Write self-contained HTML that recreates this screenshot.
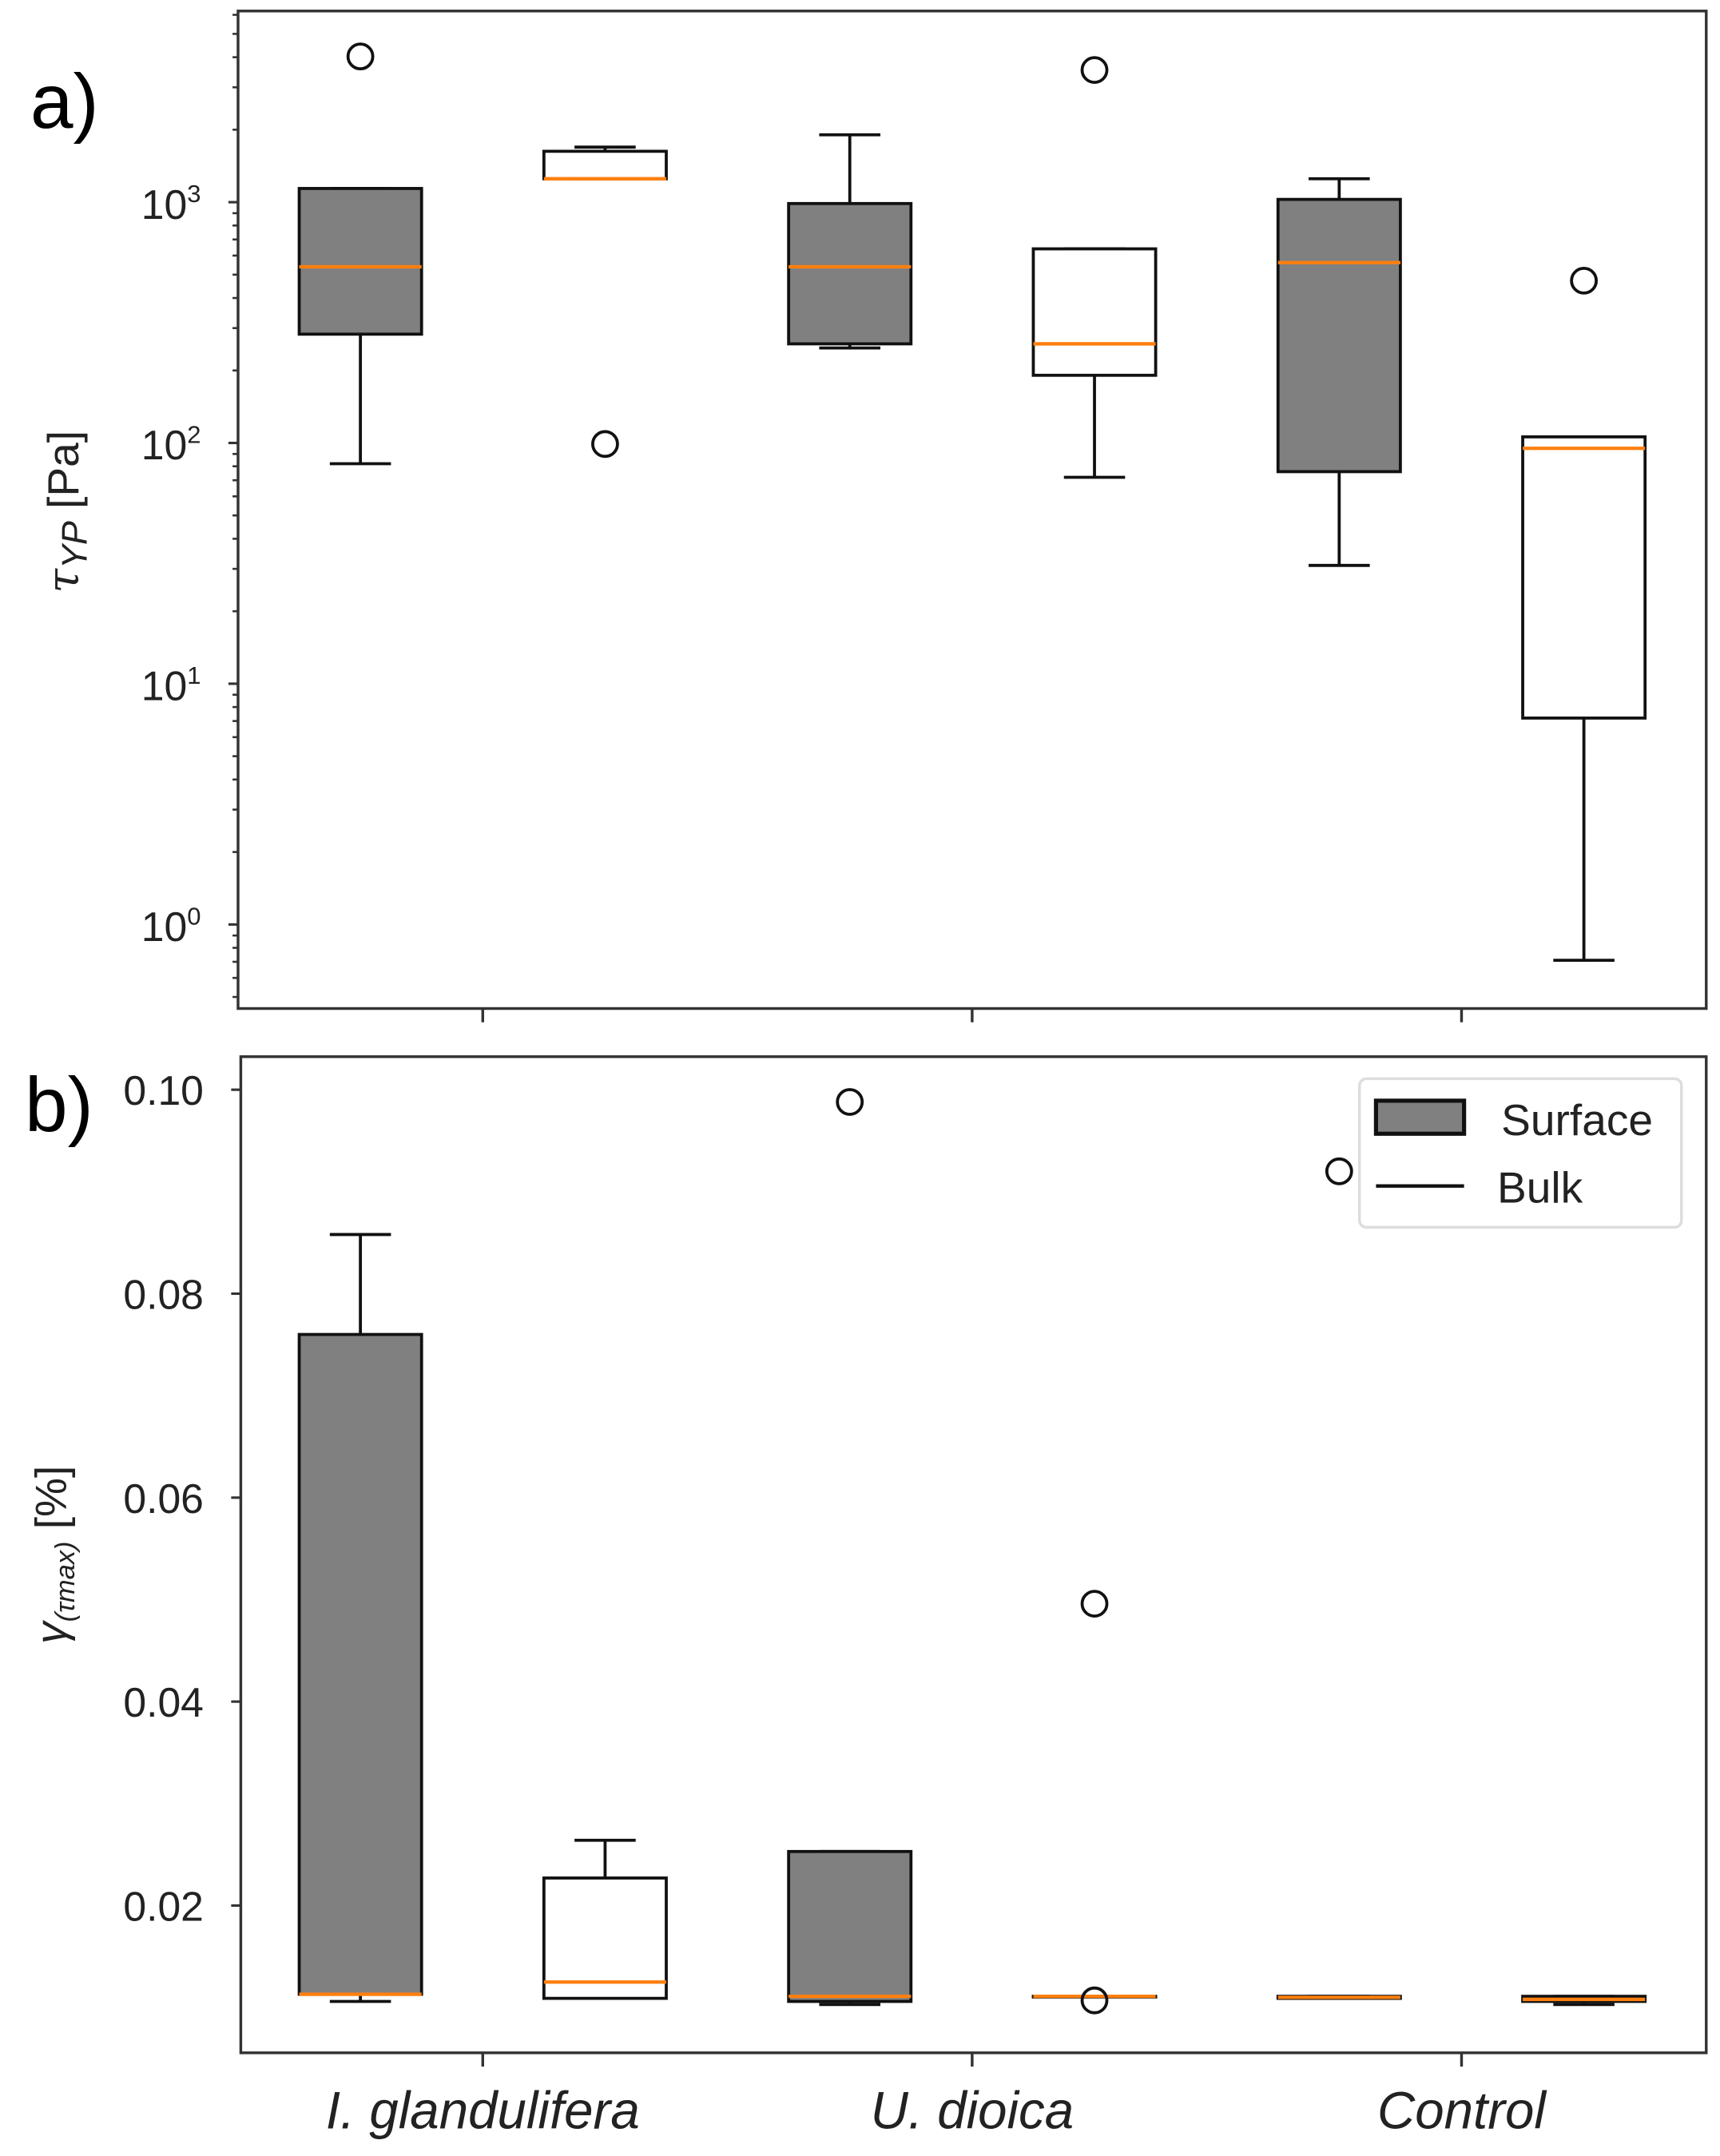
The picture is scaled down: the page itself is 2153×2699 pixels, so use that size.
<!DOCTYPE html>
<html><head><meta charset="utf-8"><style>html,body{margin:0;padding:0;background:#fff}svg{display:block}</style></head>
<body>
<svg id="fig" width="2153" height="2699" viewBox="0 0 1250 1567" preserveAspectRatio="none" xmlns="http://www.w3.org/2000/svg" font-family="'Liberation Sans', 'DejaVu Sans', sans-serif">
</svg>
<script>
// Panel a data: [low whisker, q1, median, q3, high whisker]
const categories = ["I. glandulifera", "U. dioica", "Control"];
const seriesNames = ["Surface", "Bulk"];
const aLow  = [82, 1251, 248, 72, 31, 0.71];
const aQ1   = [283, 1251, 258, 191, 76, 7.2];
const aMed  = [539, 1251, 539, 258, 561, 95];
const aQ3   = [1140, 1627, 987, 640, 1027, 106];
const aHigh = [1140, 1693, 1905, 640, 1251, 106];
const aOutliers = [[4030], [99], [], [3540], [], [472]];
const aTickExp = [0, 1, 2, 3];
// Panel b data
const bLow  = [0.0106, 0.0109, 0.0103, 0.0111, 0.0109, 0.0103];
const bQ1   = [0.0113, 0.0109, 0.0106, 0.0111, 0.0109, 0.0106];
const bMed  = [0.0113, 0.0125, 0.0111, 0.0111, 0.0110, 0.0108];
const bQ3   = [0.0760, 0.0227, 0.0253, 0.0111, 0.0111, 0.0111];
const bHigh = [0.0858, 0.0264, 0.0253, 0.0111, 0.0111, 0.0111];
const bOutliers = [[], [], [0.0988], [0.0496, 0.0107], [0.092], []];
const bTicks = [0.02, 0.04, 0.06, 0.08, 0.10];
const bTickLabels = ["0.02", "0.04", "0.06", "0.08", "0.10"];

const NS = "http://www.w3.org/2000/svg";
const svg = document.getElementById('fig');
function mk(tag, attrs, parent, text) {
  const e = document.createElementNS(NS, tag);
  for (const k in attrs) e.setAttribute(k, attrs[k]);
  if (text !== undefined) e.textContent = text;
  (parent || svg).appendChild(e);
  return e;
}
const L = 173, R = 1240;
function xPos(i) { return L + (i + 0.5 - 0) * (R - L) / 6; } // positions 1..6 -> xlim 0.5..6.5
const halfW = 0.25 * (R - L) / 6;
// Axis a
const aTop = 8, aBot = 733;
const aLogMax = 3.794, aLogMin = -0.349;
function ya(v) { return aTop + (aLogMax - Math.log10(v)) / (aLogMax - aLogMin) * (aBot - aTop); }
// Axis b
const bTop = 768, bBot = 1492, bMax = 0.10324, bMin = 0.00556;
function yb(v) { return bTop + (bMax - v) / (bMax - bMin) * (bBot - bTop); }

function drawBoxes(g, yf, low, q1, med, q3, high, outs, prefix) {
  for (let i = 0; i < 6; i++) {
    const cx = xPos(i), surf = i % 2 === 0;
    const bg = mk('g', {}, g);
    
    
    const st = {stroke: '#111', 'stroke-width': 2.2, fill: 'none'};
    mk('line', Object.assign({x1: cx, x2: cx, y1: yf(q3[i]), y2: yf(high[i])}, st), bg);
    mk('line', Object.assign({x1: cx, x2: cx, y1: yf(q1[i]), y2: yf(low[i])}, st), bg);
    mk('line', Object.assign({x1: cx - halfW / 2, x2: cx + halfW / 2, y1: yf(high[i]), y2: yf(high[i])}, st), bg);
    mk('line', Object.assign({x1: cx - halfW / 2, x2: cx + halfW / 2, y1: yf(low[i]), y2: yf(low[i])}, st), bg);
    const yt = yf(q3[i]), yb2 = yf(q1[i]);
    mk('rect', {x: cx - halfW, y: yt, width: 2 * halfW, height: Math.max(0.5, yb2 - yt), fill: surf ? '#808080' : '#fff', stroke: '#111', 'stroke-width': 2.2}, bg);
    mk('line', {x1: cx - halfW, x2: cx + halfW, y1: yf(med[i]), y2: yf(med[i]), stroke: '#ff7f0e', 'stroke-width': 2.5}, bg);
    outs[i].forEach(v => {
      const c = mk('circle', {cx: cx, cy: yf(v), r: 9, fill: 'none', stroke: '#111', 'stroke-width': 2.2}, bg);
      
      
    });
  }
}

// ---- Panel a ----
const ga = mk('g', {});


mk('rect', {x: L, y: aTop, width: R - L, height: aBot - aTop, fill: '#fff', stroke: '#333', 'stroke-width': 2}, ga);
for (let e = -1; e <= 3; e++) {
  for (let m = 2; m <= 9; m++) {
    const v = m * Math.pow(10, e);
    const y = ya(v);
    if (y < aTop || y > aBot) continue;
    mk('line', {x1: L - 4, x2: L, y1: y, y2: y, stroke: '#333', 'stroke-width': 1.5}, ga);
  }
}
aTickExp.forEach(e => {
  const y = ya(Math.pow(10, e));
  mk('line', {x1: L - 7, x2: L, y1: y, y2: y, stroke: '#333', 'stroke-width': 1.8}, ga);
  const t = mk('text', {x: 146, y: y + 12, 'text-anchor': 'end', 'font-size': 30, fill: '#222'}, ga);
  
  
  mk('tspan', {}, t, '10');
  mk('tspan', {dy: -12, 'font-size': 18}, t, String(e));
});
for (let k = 0; k < 3; k++) {
  const x = (xPos(2 * k) + xPos(2 * k + 1)) / 2;
  mk('line', {x1: x, x2: x, y1: aBot, y2: aBot + 10, stroke: '#333', 'stroke-width': 2}, ga);
}
drawBoxes(ga, ya, aLow, aQ1, aMed, aQ3, aHigh, aOutliers, 'a');
const ayt = mk('text', {transform: 'translate(57,372) rotate(-90)', 'text-anchor': 'middle', 'font-size': 32, fill: '#222'}, ga);


mk('tspan', {'font-style': 'italic', 'font-family': "'DejaVu Serif', serif"}, ayt, 'τ');
mk('tspan', {'font-style': 'italic', 'font-size': 26, dy: 6}, ayt, 'YP');
mk('tspan', {dy: -6}, ayt, ' [Pa]');
const la = mk('text', {x: 22, y: 93, 'font-size': 56, fill: '#000'}, ga, 'a)');



// ---- Panel b ----
const gb = mk('g', {});


const LB = 175;
mk('rect', {x: LB, y: bTop, width: R - LB, height: bBot - bTop, fill: '#fff', stroke: '#333', 'stroke-width': 2}, gb);
bTicks.forEach((v, i) => {
  const y = yb(v);
  mk('line', {x1: LB - 7, x2: LB, y1: y, y2: y, stroke: '#333', 'stroke-width': 1.8}, gb);
  const t = mk('text', {x: 148, y: y + 11, 'text-anchor': 'end', 'font-size': 30, fill: '#222'}, gb, bTickLabels[i]);
  
  
});
for (let k = 0; k < 3; k++) {
  const x = (xPos(2 * k) + xPos(2 * k + 1)) / 2;
  mk('line', {x1: x, x2: x, y1: bBot, y2: bBot + 10, stroke: '#333', 'stroke-width': 2}, gb);
  const t = mk('text', {x: x, y: 1547, 'text-anchor': 'middle', 'font-size': 38, 'font-style': 'italic', fill: '#222'}, gb, categories[k]);
  
  
}
drawBoxes(gb, yb, bLow, bQ1, bMed, bQ3, bHigh, bOutliers, 'b');
const byt = mk('text', {transform: 'translate(48,1130) rotate(-90)', 'text-anchor': 'middle', 'font-size': 32, fill: '#222'}, gb);


mk('tspan', {'font-style': 'italic'}, byt, 'γ');
mk('tspan', {'font-style': 'italic', 'font-size': 20, dy: 6}, byt, '(τmax)');
mk('tspan', {dy: -6}, byt, '  [%]');
const lb = mk('text', {x: 18, y: 822, 'font-size': 56, fill: '#000'}, gb, 'b)');



// Legend
const lg = mk('g', {}, gb);


mk('rect', {x: 988, y: 784, width: 234, height: 108, rx: 5, fill: '#fff', stroke: '#ddd', 'stroke-width': 2}, lg);
const le1 = mk('g', {}, lg);


mk('rect', {x: 1000, y: 800, width: 64, height: 24, fill: '#808080', stroke: '#111', 'stroke-width': 3}, le1);
mk('text', {x: 1091, y: 825, 'font-size': 32, fill: '#222'}, le1, seriesNames[0]);
const le2 = mk('g', {}, lg);


mk('line', {x1: 1000, x2: 1064, y1: 862, y2: 862, stroke: '#111', 'stroke-width': 2.5}, le2);
mk('text', {x: 1088, y: 874, 'font-size': 32, fill: '#222'}, le2, seriesNames[1]);
</script>
</body></html>
